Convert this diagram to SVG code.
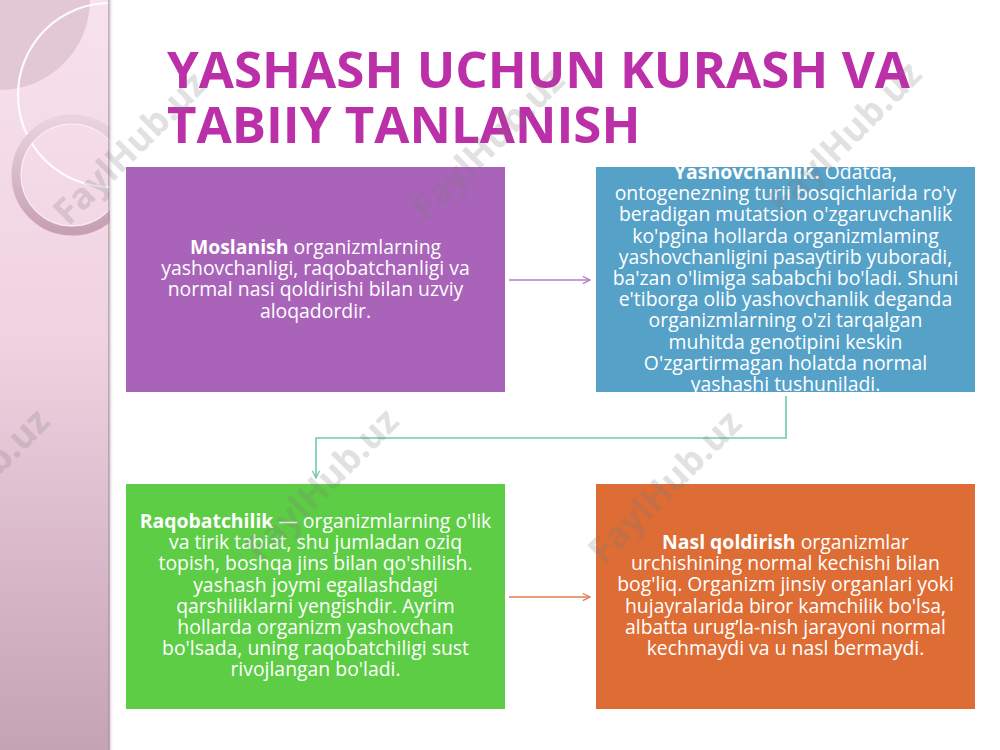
<svg xmlns="http://www.w3.org/2000/svg" width="1000" height="750" viewBox="0 0 1000 750">
<style>
.box-text{font-family:"Open Sans","Noto Sans","Liberation Sans",sans-serif;font-size:19.4px;fill:#ffffff;text-anchor:middle}
.b{font-weight:bold}
.title{font-family:"Open Sans","Noto Sans","Liberation Sans",sans-serif;font-size:51px;font-weight:bold;fill:#BB2FA8}
.wm{font-family:"Open Sans","Noto Sans","Liberation Sans",sans-serif;font-size:36px;font-weight:bold;fill:#7a7a7a;opacity:0.22;text-anchor:middle}
.conn{fill:none;stroke-width:1.6}
</style>
<defs>
<linearGradient id="strip" x1="0" y1="0" x2="0" y2="1">
<stop offset="0" stop-color="#F7E2EC"/>
<stop offset="0.45" stop-color="#F0D2E1"/>
<stop offset="1" stop-color="#C4A3B4"/>
</linearGradient>
<linearGradient id="shadow" x1="0" y1="0" x2="1" y2="0">
<stop offset="0" stop-color="#9a8a92" stop-opacity="0.7"/>
<stop offset="1" stop-color="#ffffff" stop-opacity="0"/>
</linearGradient>
<linearGradient id="ring" x1="0" y1="0" x2="0" y2="1">
<stop offset="0" stop-color="#E9D3DE"/>
<stop offset="1" stop-color="#C79FB5"/>
</linearGradient>
<clipPath id="stripClip"><rect x="0" y="0" width="110" height="750"/></clipPath>
<marker id="arrPurple" viewBox="0 0 10 10" refX="9" refY="5" markerWidth="9" markerHeight="9" markerUnits="userSpaceOnUse" orient="auto">
<path d="M1,1 L9,5 L1,9" fill="none" stroke="#B07FC3" stroke-width="1.4"/>
</marker>
<marker id="arrTeal" viewBox="0 0 10 10" refX="9" refY="5" markerWidth="9" markerHeight="9" markerUnits="userSpaceOnUse" orient="auto">
<path d="M1,1 L9,5 L1,9" fill="none" stroke="#6FCBA6" stroke-width="1.4"/>
</marker>
<marker id="arrOrange" viewBox="0 0 10 10" refX="9" refY="5" markerWidth="9" markerHeight="9" markerUnits="userSpaceOnUse" orient="auto">
<path d="M1,1 L9,5 L1,9" fill="none" stroke="#E27E4C" stroke-width="1.4"/>
</marker>
</defs>
<rect x="0" y="0" width="1000" height="750" fill="#ffffff"/>
<g id="left-strip">
<rect x="0" y="0" width="110" height="750" fill="url(#strip)"/>
<g clip-path="url(#stripClip)">
<circle cx="0" cy="0" r="90" fill="#E2C8D5"/>
<circle cx="110" cy="95" r="92" fill="none" stroke="#ffffff" stroke-width="2.2" opacity="0.9"/>
<circle cx="72" cy="175" r="56" fill="none" stroke="url(#ring)" stroke-width="9"/>
<circle cx="72" cy="175" r="51" fill="none" stroke="#ffffff" stroke-width="1" opacity="0.6"/>
</g>
<rect x="108" y="0" width="6" height="750" fill="url(#shadow)"/>
</g>
<g id="title">
<text class="title" x="167" y="88">YASHASH UCHUN KURASH VA</text>
<text class="title" x="167" y="143">TABIIY TANLANISH</text>
</g>
<g id="node-moslanish">
<rect x="126" y="167" width="379" height="225" fill="#A963B9"/>
<text class="box-text"><tspan x="315.5" y="254"><tspan class="b">Moslanish</tspan> organizmlarning</tspan><tspan x="315.5" y="275.2">yashovchanligi, raqobatchanligi va</tspan><tspan x="315.5" y="296.4">normal nasi qoldirishi bilan uzviy</tspan><tspan x="315.5" y="317.6">aloqadordir.</tspan></text>
</g>
<g id="node-yashovchanlik">
<rect x="596" y="167" width="379" height="225" fill="#56A1C8"/>
<text class="box-text"><tspan x="785.5" y="179"><tspan class="b">Yashovchanlik.</tspan> Odatda,</tspan><tspan x="785.5" y="200.2">ontogenezning turii bosqichlarida ro'y</tspan><tspan x="785.5" y="221.4">beradigan mutatsion o'zgaruvchanlik</tspan><tspan x="785.5" y="242.6">ko'pgina hollarda organizmlaming</tspan><tspan x="785.5" y="263.8">yashovchanligini pasaytirib yuboradi,</tspan><tspan x="785.5" y="285">ba'zan o'limiga sababchi bo'ladi. Shuni</tspan><tspan x="785.5" y="306.2">e'tiborga olib yashovchanlik deganda</tspan><tspan x="785.5" y="327.4">organizmlarning o'zi tarqalgan</tspan><tspan x="785.5" y="348.6">muhitda genotipini keskin</tspan><tspan x="785.5" y="369.8">O'zgartirmagan holatda normal</tspan><tspan x="785.5" y="391">yashashi tushuniladi.</tspan></text>
</g>
<g id="node-raqobatchilik">
<rect x="126" y="484" width="379" height="225" fill="#5DCD45"/>
<text class="box-text"><tspan x="315.5" y="528"><tspan class="b">Raqobatchilik</tspan> — organizmlarning o'lik</tspan><tspan x="315.5" y="549.2">va tirik tabiat, shu jumladan oziq</tspan><tspan x="315.5" y="570.4">topish, boshqa jins bilan qo'shilish.</tspan><tspan x="315.5" y="591.6">yashash joymi egallashdagi</tspan><tspan x="315.5" y="612.8">qarshiliklarni yengishdir. Ayrim</tspan><tspan x="315.5" y="634">hollarda organizm yashovchan</tspan><tspan x="315.5" y="655.2">bo'lsada, uning raqobatchiligi sust</tspan><tspan x="315.5" y="676.4">rivojlangan bo'ladi.</tspan></text>
</g>
<g id="node-nasl">
<rect x="596" y="484" width="379" height="225" fill="#DE6C35"/>
<text class="box-text"><tspan x="785.5" y="549"><tspan class="b">Nasl qoldirish</tspan> organizmlar</tspan><tspan x="785.5" y="570.2">urchishining normal kechishi bilan</tspan><tspan x="785.5" y="591.4">bog'liq. Organizm jinsiy organlari yoki</tspan><tspan x="785.5" y="612.6">hujayralarida biror kamchilik bo'lsa,</tspan><tspan x="785.5" y="633.8">albatta urug’la-nish jarayoni normal</tspan><tspan x="785.5" y="655">kechmaydi va u nasl bermaydi.</tspan></text>
</g>
<g id="connectors">
<path class="conn" d="M509,280 L590,280" stroke="#B07FC3" marker-end="url(#arrPurple)"/>
<path class="conn" d="M786,396 L786,438 L316,438 L316,478" stroke="#6FCBA6" marker-end="url(#arrTeal)"/>
<path class="conn" d="M509,597 L590,597" stroke="#E27E4C" marker-end="url(#arrOrange)"/>
</g>
<g id="watermarks">
<text class="wm" transform="translate(130,148) rotate(-45)" y="12">FaylHub.uz</text>
<text class="wm" transform="translate(488,144) rotate(-45)" y="12">FaylHub.uz</text>
<text class="wm" transform="translate(845,138) rotate(-45)" y="12">FaylHub.uz</text>
<text class="wm" transform="translate(-27,485) rotate(-45)" y="12">FaylHub.uz</text>
<text class="wm" transform="translate(322,485) rotate(-45)" y="12">FaylHub.uz</text>
<text class="wm" transform="translate(665,487) rotate(-45)" y="12">FaylHub.uz</text>
</g>
</svg>
